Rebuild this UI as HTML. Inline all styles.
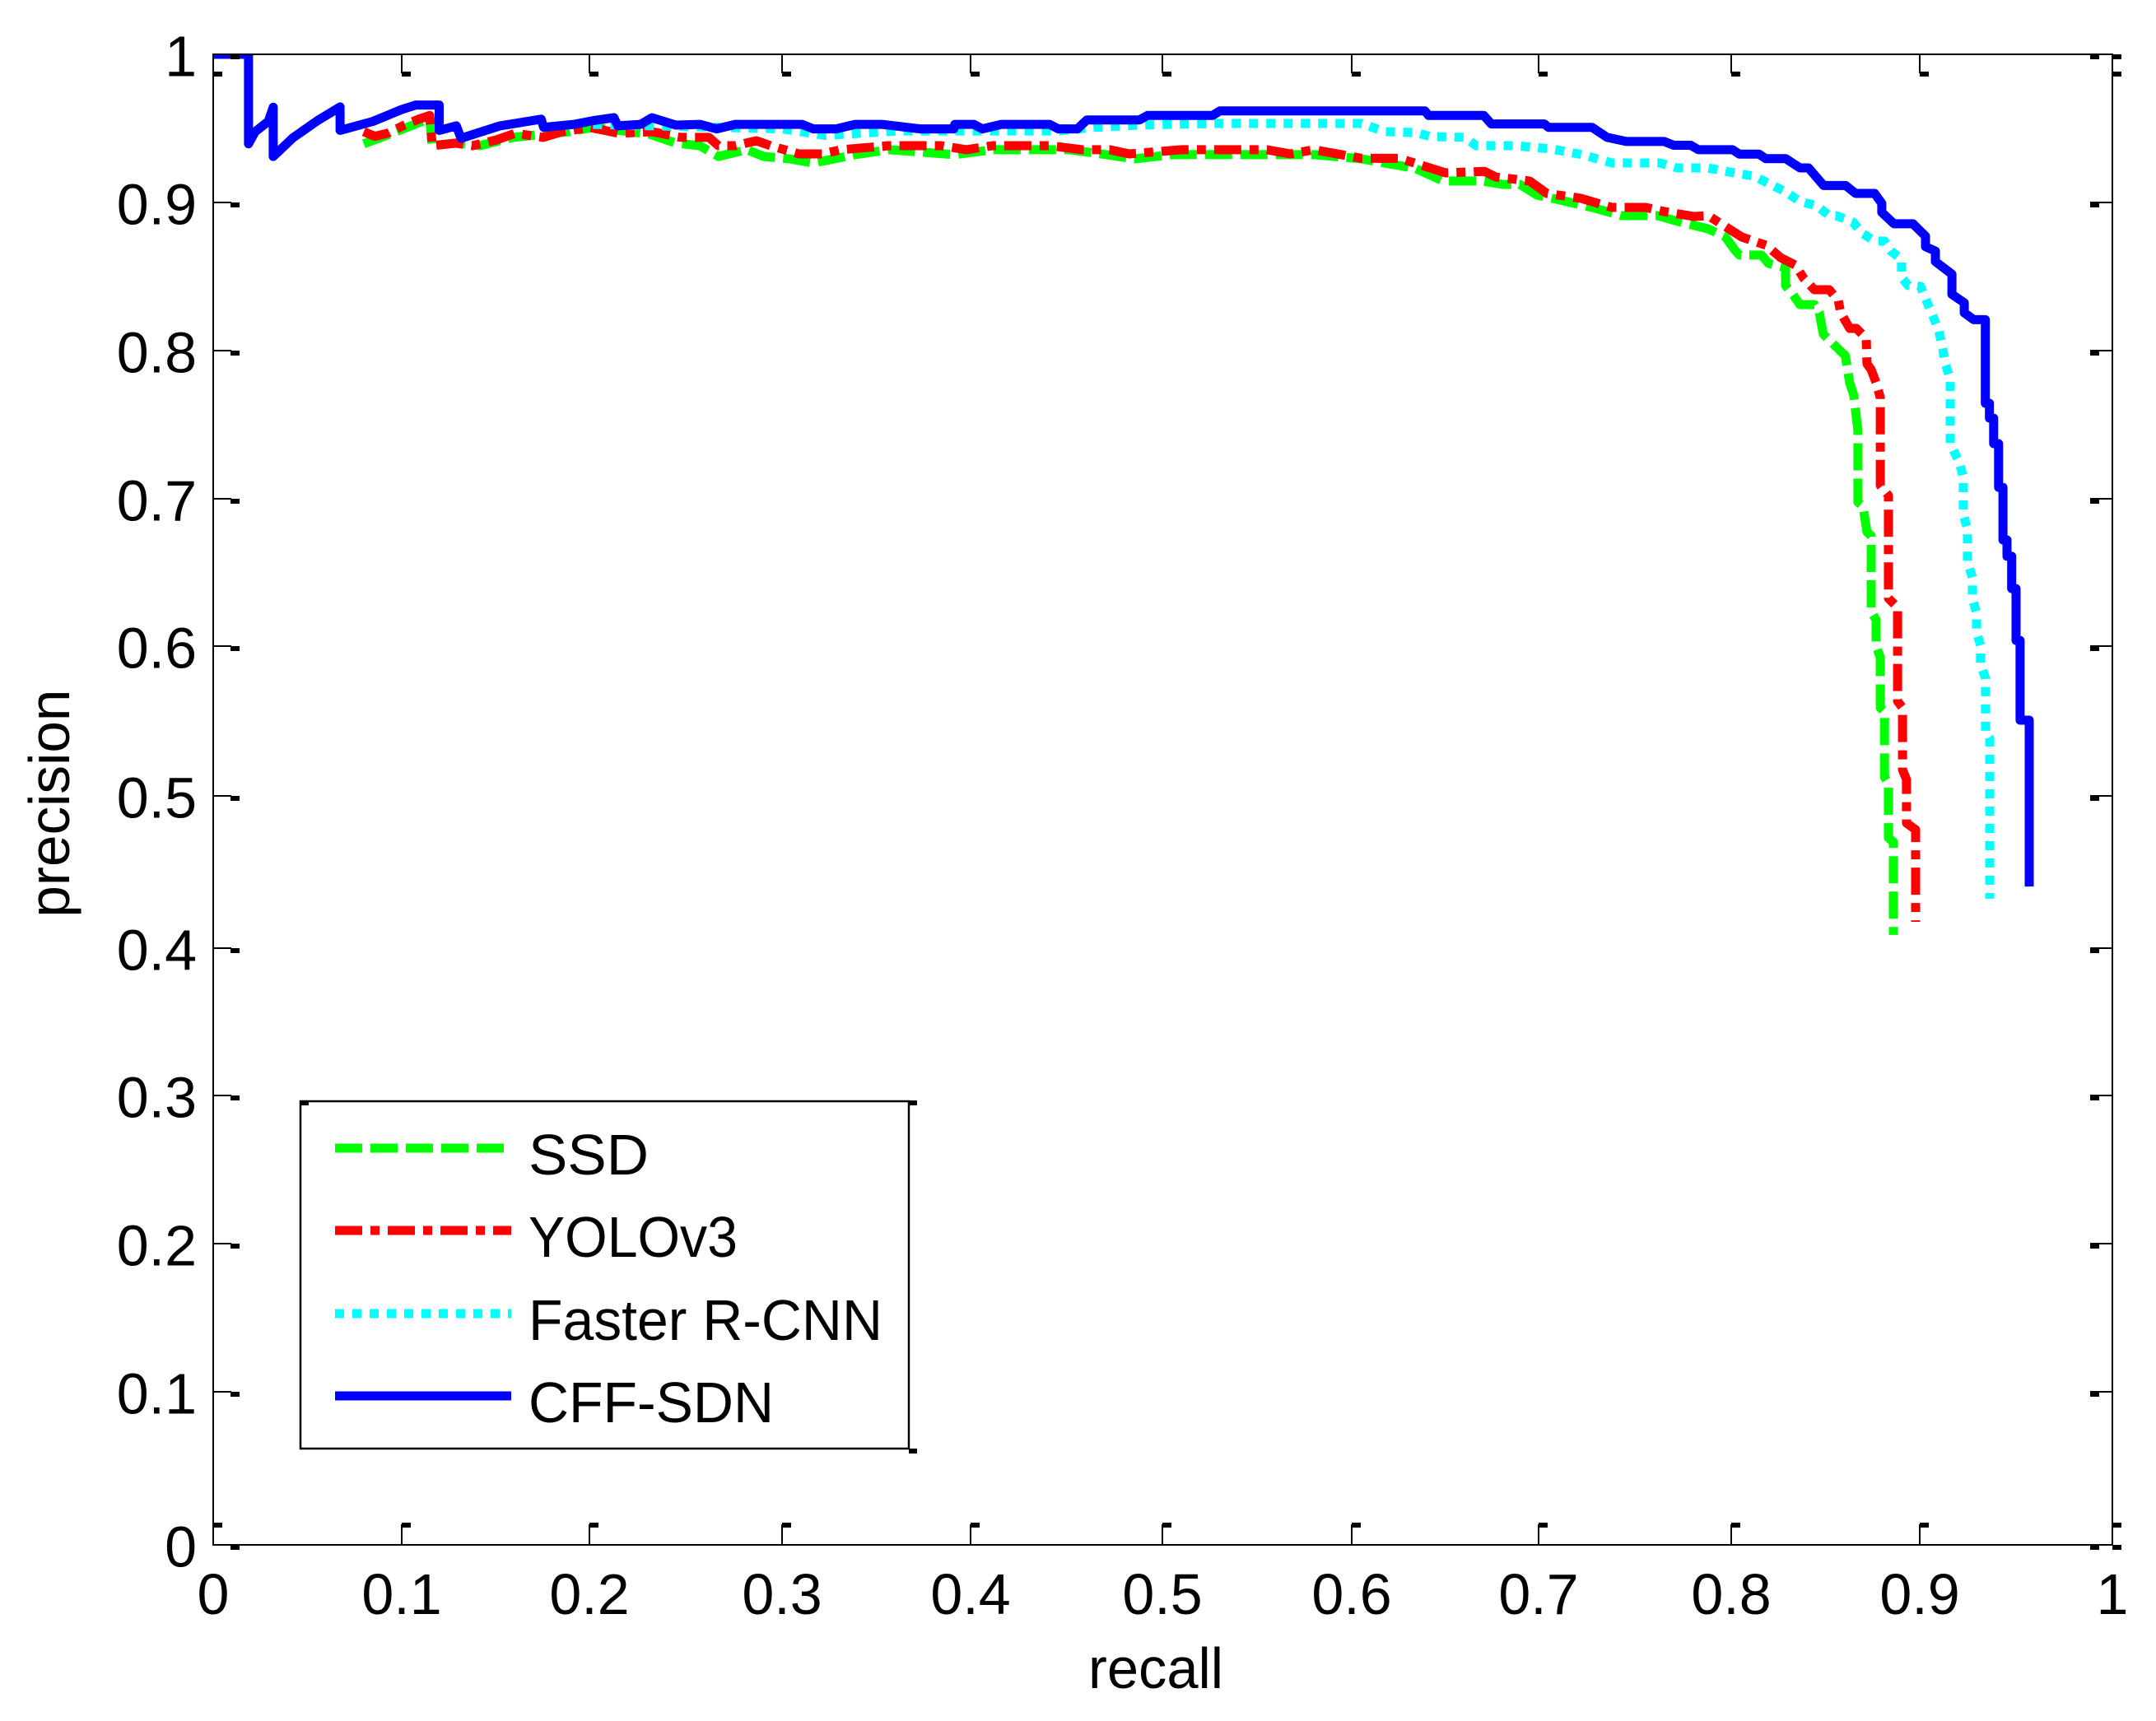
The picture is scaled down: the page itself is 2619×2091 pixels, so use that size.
<!DOCTYPE html>
<html lang="en">
<head>
<meta charset="utf-8">
<title>Precision-recall curves</title>
<style>
html,body{margin:0;padding:0;background:#fff;}
svg{display:block;}
text{font-family:"Liberation Sans",sans-serif;font-size:70px;fill:#000;}
</style>
</head>
<body>
<svg id="chart" xmlns="http://www.w3.org/2000/svg" width="2619" height="2091" viewBox="0 0 2619 2091">
<defs><clipPath id="plot-clip"><rect x="259" y="66" width="2307" height="1811"/></clipPath></defs>
<rect x="0" y="0" width="2619" height="2091" fill="#fff"/>
<g id="curves" clip-path="url(#plot-clip)"></g>
<g id="axes"></g>
<g id="legend"></g>
</svg>
<script>
const xTickValues = [0, .0993, .1983, .2995, .3987, .4999, .5995, .6979, .7995, .8984, 1];
const yTickValues = [0, .1029, .2022, .3015, .4003, .5027, .6031, .7018, .8014, .9008, 1];
const xTickLabels = ["0", "0.1", "0.2", "0.3", "0.4", "0.5", "0.6", "0.7", "0.8", "0.9", "1"];
const yTickLabels = ["0", "0.1", "0.2", "0.3", "0.4", "0.5", "0.6", "0.7", "0.8", "0.9", "1"];
const seriesNames = ["SSD", "YOLOv3", "Faster R-CNN", "CFF-SDN"];

const ssdCurve = [[.0793,.94],[.09,.945],[.1,.95],[.11,.955],[.114,.958],[.1153,.9387],[.1279,.9404],[.1404,.9387],[.158,.9443],[.1877,.9481],[.2,.951],[.2297,.9465],[.2436,.9404],[.2562,.9387],[.266,.9315],[.281,.936],[.2898,.9315],[.3034,.9299],[.316,.9271],[.338,.9327],[.356,.936],[.3905,.9327],[.4105,.936],[.4505,.936],[.4703,.9327],[.4851,.9299],[.505,.9327],[.5795,.9327],[.6047,.9299],[.6294,.9243],[.6324,.9238],[.6476,.915],[.668,.915],[.6792,.9127],[.688,.9127],[.697,.9056],[.7072,.9028],[.726,.8973],[.7416,.8918],[.7606,.8918],[.7694,.8885],[.7872,.8829],[.7963,.8774],[.801,.8691],[.8036,.8653],[.8152,.8653],[.8188,.8598],[.8279,.8569],[.8279,.8449],[.8318,.8388],[.8355,.8321],[.8431,.8321],[.8457,.8266],[.8478,.8122],[.8557,.8023],[.8594,.7979],[.8617,.7797],[.8638,.7714],[.866,.7477],[.866,.6996],[.8687,.6968],[.8708,.6797],[.873,.677],[.873,.6262],[.8756,.6206],[.8756,.6035],[.8778,.5952],[.8778,.5616],[.88,.5588],[.88,.5152],[.8821,.5108],[.8821,.4743],[.8847,.4716],[.8847,.4092]];
const yoloCurve = [[.0793,.9481],[.085,.945],[.0918,.947],[.1006,.9525],[.108,.9564],[.114,.959],[.1153,.9387],[.1279,.9404],[.1365,.9387],[.1491,.9426],[.159,.947],[.1738,.9443],[.1838,.9481],[.1987,.9509],[.2137,.947],[.231,.9481],[.2462,.9443],[.261,.9443],[.266,.9387],[.2748,.9387],[.286,.942],[.2934,.9387],[.3084,.9332],[.3205,.9332],[.3307,.936],[.356,.9387],[.3832,.9387],[.3966,.936],[.4105,.9387],[.4404,.9387],[.4577,.936],[.472,.936],[.4824,.9332],[.51,.936],[.5548,.936],[.5672,.9332],[.5795,.936],[.6047,.9302],[.6246,.9302],[.6324,.9271],[.6489,.9205],[.6693,.9215],[.6753,.9177],[.6931,.915],[.7022,.9067],[.72,.9034],[.7365,.8973],[.7542,.8973],[.7642,.8945],[.7796,.8912],[.7872,.8918],[.7974,.8835],[.8049,.8774],[.8177,.8719],[.8253,.8636],[.8331,.8586],[.8374,.8498],[.8431,.8421],[.8509,.8421],[.8557,.8349],[.8569,.8266],[.8617,.8161],[.8652,.8161],[.8704,.8095],[.8708,.7924],[.873,.7885],[.8756,.7797],[.8778,.7697],[.8778,.7107],[.8821,.704],[.8821,.635],[.8869,.6289],[.8869,.566],[.8895,.5616],[.8895,.52],[.8916,.5135],[.8916,.4843],[.8964,.4798],[.8964,.418]];
const fasterRcnnCurve = [[.2,.953],[.3,.95],[.322,.9456],[.3606,.9486],[.4053,.9486],[.4452,.9486],[.4625,.9509],[.4877,.9525],[.5275,.9536],[.6047,.9536],[.6168,.9481],[.6333,.9475],[.641,.9448],[.659,.9443],[.665,.9387],[.6857,.9387],[.7048,.9365],[.721,.9327],[.7286,.9299],[.7365,.9271],[.7618,.9271],[.7707,.9238],[.787,.9238],[.7963,.9215],[.8115,.9182],[.82,.9127],[.8279,.9078],[.8355,.9012],[.8444,.8984],[.8509,.8918],[.8545,.8918],[.8635,.8874],[.868,.8802],[.8748,.8747],[.88,.8747],[.8834,.868],[.889,.8625],[.889,.8504],[.8925,.8449],[.899,.8443],[.902,.8349],[.9055,.8244],[.9086,.8145],[.9107,.8023],[.912,.7924],[.9146,.7824],[.9146,.7388],[.9194,.7261],[.9215,.7162],[.9215,.6913],[.9237,.6814],[.9237,.6598],[.9263,.6488],[.9263,.635],[.9285,.6251],[.9285,.6124],[.9306,.6035],[.9306,.5908],[.9332,.5814],[.9332,.5444],[.9354,.5411],[.9354,.4335]];
const cffSdnCurve = [[0,1],[.0186,1],[.0186,.94],[.022,.948],[.029,.955],[.0316,.9645],[.0316,.9315],[.042,.944],[.0546,.9553],[.0668,.9647],[.0668,.949],[.0841,.955],[.0993,.963],[.1067,.966],[.119,.966],[.119,.949],[.128,.952],[.1305,.9437],[.151,.952],[.1727,.9565],[.174,.951],[.19,.953],[.2,.9555],[.211,.9575],[.213,.952],[.225,.953],[.231,.9575],[.2436,.9525],[.2562,.953],[.265,.95],[.275,.953],[.31,.953],[.316,.95],[.328,.95],[.338,.953],[.352,.953],[.372,.95],[.39,.95],[.3905,.953],[.4005,.953],[.405,.95],[.415,.953],[.4404,.953],[.445,.95],[.455,.95],[.46,.956],[.4877,.956],[.492,.959],[.5262,.959],[.53,.962],[.638,.962],[.64,.959],[.669,.959],[.673,.9533],[.701,.9533],[.703,.951],[.726,.951],[.734,.9443],[.744,.9415],[.764,.9415],[.769,.939],[.778,.939],[.782,.936],[.8,.936],[.8036,.933],[.814,.933],[.8175,.93],[.828,.93],[.8355,.9238],[.84,.9238],[.848,.912],[.8596,.912],[.8648,.9067],[.8748,.9067],[.8786,.9],[.8786,.894],[.885,.8863],[.895,.8863],[.9016,.878],[.9016,.871],[.9068,.868],[.9068,.861],[.9155,.8525],[.9155,.839],[.922,.8333],[.922,.8266],[.927,.822],[.9331,.822],[.9331,.7659],[.9353,.7659],[.9353,.7559],[.9375,.7559],[.9375,.7388],[.9401,.7388],[.9401,.7095],[.9424,.7095],[.9424,.6742],[.9445,.6742],[.9445,.6632],[.947,.6632],[.947,.6416],[.9493,.6416],[.9493,.6068],[.9514,.6068],[.9514,.5533],[.9562,.5533],[.9562,.4417]];

const plotLeft = 259, plotRight = 2566, plotTop = 66, plotBottom = 1877;
const NS = "http://www.w3.org/2000/svg";
function xScale(v){ return plotLeft + v * (plotRight - plotLeft); }
function yScale(v){ return plotBottom - v * (plotBottom - plotTop); }
function make(parent, tag, attrs, content){
  const el = document.createElementNS(NS, tag);
  for (const k in attrs) el.setAttribute(k, attrs[k]);
  if (content !== undefined) el.textContent = content;
  parent.appendChild(el);
  return el;
}
const curvesGroup = document.getElementById("curves");
const axesGroup = document.getElementById("axes");
const legendGroup = document.getElementById("legend");

const seriesStyles = [
  {color:"#00ff00", dash:"33 10", w:11},
  {color:"#ff0000", dash:"33 10 11 10", w:11},
  {color:"#00ffff", dash:"11 10", w:11},
  {color:"#0000ff", dash:"", w:11}
];
const seriesCurves = [ssdCurve, yoloCurve, fasterRcnnCurve, cffSdnCurve];
const seriesKeys = ["ssd", "yolov3", "faster-r-cnn", "cff-sdn"];

seriesCurves.forEach(function(curve, i){
  const d = curve.map(function(p, j){ return (j ? "L" : "M") + xScale(p[0]).toFixed(1) + " " + yScale(p[1]).toFixed(1); }).join("");
  const st = seriesStyles[i];
  const path = make(curvesGroup, "path", {d:d, fill:"none", stroke:st.color, "stroke-width":st.w, "stroke-dasharray":st.dash, "stroke-linejoin":"round", "stroke-linecap":"butt"});
  
  
});

const frame = make(axesGroup, "rect", {x:plotLeft, y:plotTop, width:plotRight-plotLeft, height:plotBottom-plotTop, fill:"none", stroke:"#000", "stroke-width":2});



xTickValues.forEach(function(v, i){
  const x = Math.round(xScale(v));
  const g = make(axesGroup, "g", {fill:"#000"});
  
  
  make(g, "rect", {x:x-1, y:plotTop, width:2, height:23});
  make(g, "rect", {x:x, y:plotTop+21, width:11, height:6});
  make(g, "rect", {x:x-1, y:plotBottom-25, width:2, height:25});
  make(g, "rect", {x:x, y:plotBottom-27, width:11, height:6});
  const t = make(axesGroup, "text", {x:x, y:1961, "text-anchor":"middle"}, xTickLabels[i]);
  
  
});

yTickValues.forEach(function(v, i){
  const y = Math.round(yScale(v));
  const g = make(axesGroup, "g", {fill:"#000"});
  
  
  make(g, "rect", {x:plotLeft, y:y-1, width:22, height:2});
  make(g, "rect", {x:plotLeft+21, y:y, width:11, height:6});
  make(g, "rect", {x:plotRight-27, y:y-1, width:27, height:2});
  make(g, "rect", {x:plotRight-27, y:y, width:11, height:6});
  const t = make(axesGroup, "text", {x:239, y:y+26.5, "text-anchor":"end"}, yTickLabels[i]);
  
  
});

[[plotRight, plotTop], [plotRight, plotBottom]].forEach(function(c){
  const cornerBlob = make(axesGroup, "rect", {x:c[0], y:c[1], width:11, height:6, fill:"#000"});
  
  
});

const xTitle = make(axesGroup, "text", {x:1322, y:2051, textLength:164, lengthAdjust:"spacingAndGlyphs"}, "recall");


const yTitle = make(axesGroup, "text", {x:0, y:0, textLength:277, lengthAdjust:"spacingAndGlyphs", transform:"translate(84 1114.6) rotate(-90)"}, "precision");



const legendBox = make(legendGroup, "rect", {x:365, y:1338, width:739, height:422, fill:"#fff", stroke:"#000", "stroke-width":2.5});


[[365,1337],[1104,1337],[1104,1760]].forEach(function(c){
  const m = make(legendGroup, "rect", {x:c[0], y:c[1], width:10, height:6, fill:"#000"});
  
  
});
const legendRowY = [1395, 1495, 1596, 1696];
const legendTextLengths = [146, 254, 430, 298];
seriesNames.forEach(function(name, i){
  const st = seriesStyles[i];
  const g = make(legendGroup, "g", {});
  
  
  const sw = make(g, "line", {x1:407, x2:621, y1:legendRowY[i], y2:legendRowY[i], stroke:st.color, "stroke-width":st.w, "stroke-dasharray":st.dash});
  
  
  const t = make(g, "text", {x:642, y:legendRowY[i]+32, textLength:legendTextLengths[i], lengthAdjust:"spacingAndGlyphs"}, name);
  
  
});
</script>
</body>
</html>
